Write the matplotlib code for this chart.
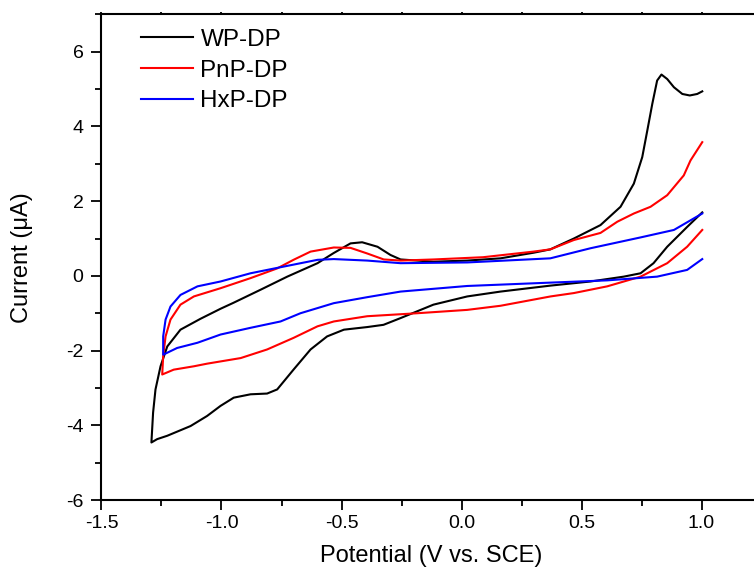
import numpy as np
import matplotlib
matplotlib.use('Agg')
import matplotlib.pyplot as plt
from matplotlib.ticker import MultipleLocator

plt.rcParams['font.family'] = ['Liberation Sans', 'DejaVu Sans']

# CV traces: lower branch from 1.0 V back to the vertex, then upper branch out to 1.0 V
wp_x = [1.003, 0.94, 0.857, 0.80, 0.746, 0.676, 0.5375, 0.371, 0.1625, 0.024, -0.117, -0.254, -0.325,
        -0.393, -0.49, -0.56, -0.629, -0.70, -0.768, -0.81, -0.879, -0.949, -1.004, -1.06, -1.129,
        -1.226, -1.268, -1.292,
        -1.285, -1.275, -1.254, -1.226, -1.171, -1.088, -1.004, -0.95, -0.837, -0.726, -0.60, -0.533,
        -0.4625, -0.414, -0.35, -0.296, -0.254, -0.117, 0.024, 0.1625, 0.30, 0.37, 0.468, 0.579,
        0.6625, 0.718, 0.753, 0.774, 0.795, 0.815, 0.833, 0.857, 0.885, 0.92, 0.951, 0.982, 1.003]
wp_y = [1.70, 1.31, 0.78, 0.34, 0.07, -0.02, -0.15, -0.26, -0.42, -0.55, -0.77, -1.13, -1.31,
        -1.37, -1.44, -1.62, -1.97, -2.51, -3.04, -3.15, -3.17, -3.26, -3.48, -3.75, -4.02,
        -4.28, -4.37, -4.46,
        -3.66, -3.04, -2.42, -1.89, -1.44, -1.15, -0.88, -0.72, -0.37, -0.02, 0.34, 0.61,
        0.87, 0.90, 0.78, 0.56, 0.44, 0.38, 0.41, 0.47, 0.62, 0.71, 1.0, 1.36,
        1.85, 2.47, 3.18, 3.89, 4.61, 5.23, 5.39, 5.27, 5.05, 4.87, 4.83, 4.87, 4.94]

pnp_x = [1.003, 0.94, 0.857, 0.746, 0.607, 0.468, 0.371, 0.1625, 0.024, -0.185, -0.393, -0.532,
         -0.60, -0.70, -0.81, -0.92, -1.004, -1.06, -1.115, -1.199, -1.247,
         -1.243, -1.233, -1.2125, -1.171, -1.115, -1.004, -0.879, -0.768, -0.70, -0.629, -0.532,
         -0.4625, -0.393, -0.324, -0.254, -0.115, 0.09, 0.30, 0.37, 0.468, 0.579, 0.649, 0.718,
         0.7875, 0.857, 0.926, 0.954, 1.003]
pnp_y = [1.23, 0.78, 0.34, -0.02, -0.28, -0.46, -0.55, -0.80, -0.91, -1.0, -1.08, -1.22,
         -1.35, -1.66, -1.97, -2.2, -2.29, -2.35, -2.42, -2.51, -2.64,
         -2.15, -1.62, -1.17, -0.77, -0.55, -0.33, -0.06, 0.2, 0.43, 0.65, 0.76,
         0.75, 0.60, 0.44, 0.41, 0.44, 0.50, 0.65, 0.71, 0.96, 1.15, 1.45, 1.67,
         1.85, 2.16, 2.69, 3.09, 3.58]

hxp_x = [1.003, 0.94, 0.815, 0.607, 0.371, 0.024, -0.254, -0.393, -0.532, -0.671, -0.754, -0.879,
         -1.004, -1.10, -1.185, -1.243,
         -1.243, -1.233, -1.2125, -1.171, -1.10, -1.004, -0.879, -0.74, -0.60, -0.532, -0.393,
         -0.254, 0.024, 0.37, 0.5375, 0.746, 0.885, 1.003]
hxp_y = [0.45, 0.16, -0.02, -0.12, -0.18, -0.27, -0.42, -0.57, -0.73, -1.0, -1.22, -1.39,
         -1.57, -1.79, -1.93, -2.11,
         -1.62, -1.17, -0.82, -0.51, -0.28, -0.15, 0.07, 0.25, 0.43, 0.45, 0.41,
         0.34, 0.36, 0.47, 0.74, 1.03, 1.23, 1.67]

labels = ['WP-DP', 'PnP-DP', 'HxP-DP']
colors = ['black', 'red', 'blue']

fig = plt.figure(figsize=(7.54, 5.74), dpi=100)
ax = fig.add_axes([0.1346, 0.1289, 0.8754, 0.846])

for xs, ys, lab, c in zip([wp_x, pnp_x, hxp_x], [wp_y, pnp_y, hxp_y], labels, colors):
    ax.plot(xs, ys, color=c, lw=1.5, label=lab, solid_joinstyle='round')

ax.set_xlim(-1.5, 1.25)
ax.set_ylim(-6, 7)
ax.xaxis.set_minor_locator(MultipleLocator(0.25))
ax.yaxis.set_minor_locator(MultipleLocator(1))
ax.set_yticks([-6, -4, -2, 0, 2, 4, 6])
ax.set_yticklabels(['-6', '-4', '-2', '0', '2', '4', '6'])
ax.set_xticks([-1.5, -1.0, -0.5, 0.0, 0.5, 1.0])
ax.set_xticklabels(['-1.5', '-1.0', '-0.5', '0.0', '0.5', '1.0'])

ax.spines['right'].set_visible(False)
for s in ['left', 'bottom', 'top']:
    ax.spines[s].set_linewidth(1.5)
ax.tick_params(which='major', direction='out', length=7, width=1.3, labelsize=14)
ax.tick_params(which='minor', direction='out', length=4, width=1.3)
ax.tick_params(axis='y', which='major', pad=6)
ax.tick_params(axis='x', which='both', top=True, labeltop=False)
for t in ax.xaxis.get_ticklines(minor=False)[1::2] + ax.xaxis.get_ticklines(minor=True)[1::2]:
    t.set_markersize(1.5)

ax.set_xlabel('Potential (V vs. SCE)', fontsize=17, labelpad=10)
ax.set_ylabel('Current (\u03bcA)', fontsize=17, labelpad=24)

ax.legend(loc='upper left', frameon=False, fontsize=17.5, handlelength=2.15,
          handletextpad=0.3, labelspacing=0.35, bbox_to_anchor=(0.045, 0.99),
          borderaxespad=0.0)

fig.savefig('out.png', dpi=100)
